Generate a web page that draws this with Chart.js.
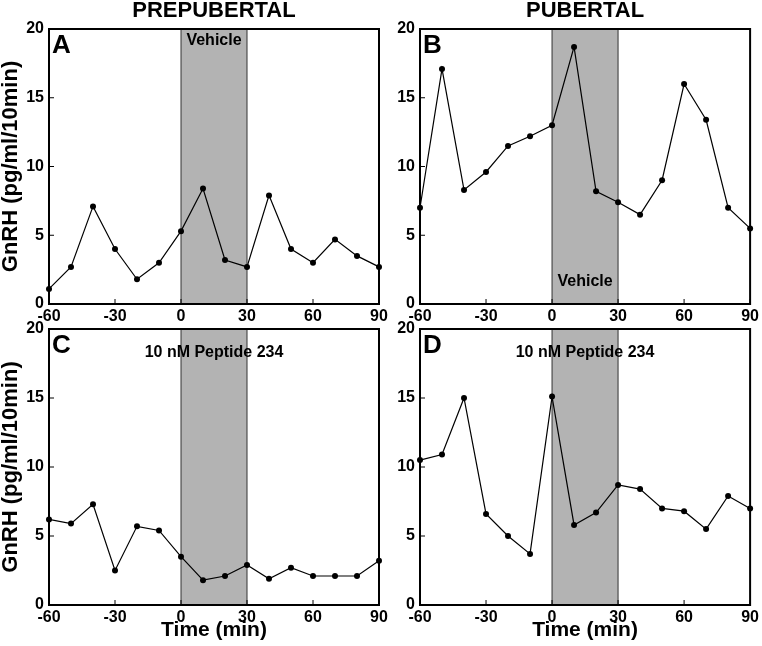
<!DOCTYPE html>
<html>
<head>
<meta charset="utf-8">
<script src="https://cdn.jsdelivr.net/npm/chart.js@4"></script>
<style>
    body { margin: 0; background: #fff; }
    .panel { position: absolute; }
</style>
</head>
<body>
<div class="panel" style="left:0px;top:0px;width:400px;height:330px"><canvas id="chart_a"></canvas></div>
<div class="panel" style="left:381px;top:0px;width:381px;height:330px"><canvas id="chart_b"></canvas></div>
<div class="panel" style="left:0px;top:310px;width:400px;height:336px"><canvas id="chart_c"></canvas></div>
<div class="panel" style="left:381px;top:310px;width:381px;height:336px"><canvas id="chart_d"></canvas></div>
<script>
const FONT = "'Liberation Sans', Arial, Helvetica, sans-serif";

// sampling times (min)
const timeMin = [-60, -50, -40, -30, -20, -10, 0, 10, 20, 30, 40, 50, 60, 70, 80, 90];

// GnRH release (pg/ml/10min)
const prepubVehicle = [1.1, 2.7, 7.1, 4.0, 1.8, 3.0, 5.3, 8.4, 3.2, 2.7, 7.9, 4.0, 3.0, 4.7, 3.5, 2.7];
const pubVehicle = [7.0, 17.1, 8.3, 9.6, 11.5, 12.2, 13.0, 18.7, 8.2, 7.4, 6.5, 9.0, 16.0, 13.4, 7.0, 5.5];
const prepubPeptide = [6.2, 5.9, 7.3, 2.5, 5.7, 5.4, 3.5, 1.8, 2.1, 2.9, 1.9, 2.7, 2.1, 2.1, 2.1, 3.2];
const pubPeptide = [10.5, 10.9, 15.0, 6.6, 5.0, 3.7, 15.1, 5.8, 6.7, 8.7, 8.4, 7.0, 6.8, 5.5, 7.9, 7.0];

const xTickValues = [-60, -30, 0, 30, 60, 90];
const yTickValues = [0, 5, 10, 15, 20];

// treatment window shaded grey
const treatmentStart = 0;
const treatmentEnd = 30;

// grey window, frame, inward ticks and the text inside the panels
const panelDecor = {
    id: "panelDecor",
    beforeDatasetsDraw(chart, args, opts) {
        const ctx = chart.ctx;
        const area = chart.chartArea;
        const xs = chart.scales.x;
        const ys = chart.scales.y;
        const x0 = xs.getPixelForValue(treatmentStart);
        const x1 = xs.getPixelForValue(treatmentEnd);

        ctx.save();
        ctx.fillStyle = "#b3b3b3";
        ctx.fillRect(x0, area.top, x1 - x0, area.bottom - area.top);
        ctx.strokeStyle = "#333";
        ctx.lineWidth = 1;
        ctx.beginPath();
        ctx.moveTo(x0, area.top); ctx.lineTo(x0, area.bottom);
        ctx.moveTo(x1, area.top); ctx.lineTo(x1, area.bottom);
        ctx.stroke();

        ctx.strokeStyle = "#000";
        ctx.lineWidth = 1;
        ctx.beginPath();
        xs.ticks.forEach(t => {
            const px = xs.getPixelForValue(t.value);
            ctx.moveTo(px, area.bottom);
            ctx.lineTo(px, area.bottom - 5);
        });
        ys.ticks.forEach(t => {
            const py = ys.getPixelForValue(t.value);
            ctx.moveTo(area.left, py);
            ctx.lineTo(area.left + 5, py);
        });
        ctx.stroke();

        ctx.lineWidth = 2;
        ctx.strokeRect(area.left, area.top, area.right - area.left, area.bottom - area.top);

        ctx.fillStyle = "#000";
        ctx.textBaseline = "middle";
        const cx = (area.left + area.right) / 2;
        if (opts.header) {
            ctx.textAlign = "center";
            ctx.font = "bold 22px " + FONT;
            ctx.fillText(opts.header, cx, 11);
        }
        ctx.textAlign = "left";
        ctx.font = "bold 26px " + FONT;
        ctx.fillText(opts.letter, area.left + 3, area.top + 17);

        ctx.textAlign = "center";
        ctx.font = "bold 16px " + FONT;
        if (opts.notePos === "bottom") {
            ctx.fillText(opts.note, (x0 + x1) / 2, area.bottom - 22);
        } else if (opts.notePos === "band") {
            ctx.fillText(opts.note, (x0 + x1) / 2, area.top + 12);
        } else {
            ctx.fillText(opts.note, cx, area.top + 24);
        }
        ctx.restore();
    }
};

function drawPanel(canvasId, values, setup) {
    const tickFont = { family: FONT, size: 16, weight: "bold" };

    new Chart(document.getElementById(canvasId), {
        type: "line",
        data: {
            labels: timeMin,
            datasets: [{
                data: timeMin.map((t, i) => ({ x: t, y: values[i] })),
                borderColor: "#000",
                backgroundColor: "#000",
                borderWidth: 1.2,
                pointRadius: 3,
                pointBorderWidth: 0,
                tension: 0,
                clip: false
            }]
        },
        options: {
            responsive: true,
            maintainAspectRatio: false,
            animation: false,
            layout: { padding: setup.padding },
            plugins: {
                legend: { display: false },
                tooltip: { enabled: false },
                panelDecor: setup.decor
            },
            scales: {
                x: {
                    type: "linear",
                    min: -60,
                    max: 90,
                    afterBuildTicks: s => { s.ticks = xTickValues.map(v => ({ value: v })); },
                    afterFit: s => { s.height = setup.xHeight; },
                    grid: { display: false, drawTicks: false },
                    border: { display: false },
                    ticks: { color: "#000", font: tickFont, padding: 3, maxRotation: 0 },
                    title: {
                        display: setup.xTitle,
                        text: "Time (min)",
                        color: "#000",
                        font: { family: FONT, size: 21, weight: "bold", lineHeight: 1 },
                        padding: { top: 0, bottom: 5 }
                    }
                },
                y: {
                    min: 0,
                    max: 20,
                    afterBuildTicks: s => { s.ticks = yTickValues.map(v => ({ value: v })); },
                    afterFit: s => { s.width = setup.yWidth; },
                    grid: { display: false, drawTicks: false },
                    border: { display: false },
                    ticks: { color: "#000", font: tickFont, padding: 5 },
                    title: {
                        display: setup.yTitle,
                        text: "GnRH (pg/ml/10min)",
                        color: "#000",
                        font: { family: FONT, size: 22, weight: "bold", lineHeight: 1 },
                        padding: { top: 0, bottom: 0 }
                    }
                }
            }
        },
        plugins: [panelDecor]
    });
}

function loadFigure() {
    drawPanel("chart_a", prepubVehicle, {
        padding: { top: 29, right: 21, bottom: 0, left: 0 },
        yWidth: 49, xHeight: 26, yTitle: true, xTitle: false,
        decor: { header: "PREPUBERTAL", letter: "A", note: "Vehicle", notePos: "band" }
    });
    drawPanel("chart_b", pubVehicle, {
        padding: { top: 29, right: 11, bottom: 0, left: 0 },
        yWidth: 39, xHeight: 26, yTitle: false, xTitle: false,
        decor: { header: "PUBERTAL", letter: "B", note: "Vehicle", notePos: "bottom" }
    });
    drawPanel("chart_c", prepubPeptide, {
        padding: { top: 19, right: 21, bottom: 0, left: 0 },
        yWidth: 49, xHeight: 41, yTitle: true, xTitle: true,
        decor: { letter: "C", note: "10 nM Peptide 234", notePos: "center" }
    });
    drawPanel("chart_d", pubPeptide, {
        padding: { top: 19, right: 11, bottom: 0, left: 0 },
        yWidth: 39, xHeight: 41, yTitle: false, xTitle: true,
        decor: { letter: "D", note: "10 nM Peptide 234", notePos: "center" }
    });
}

document.addEventListener("DOMContentLoaded", loadFigure);
</script>
</body>
</html>
